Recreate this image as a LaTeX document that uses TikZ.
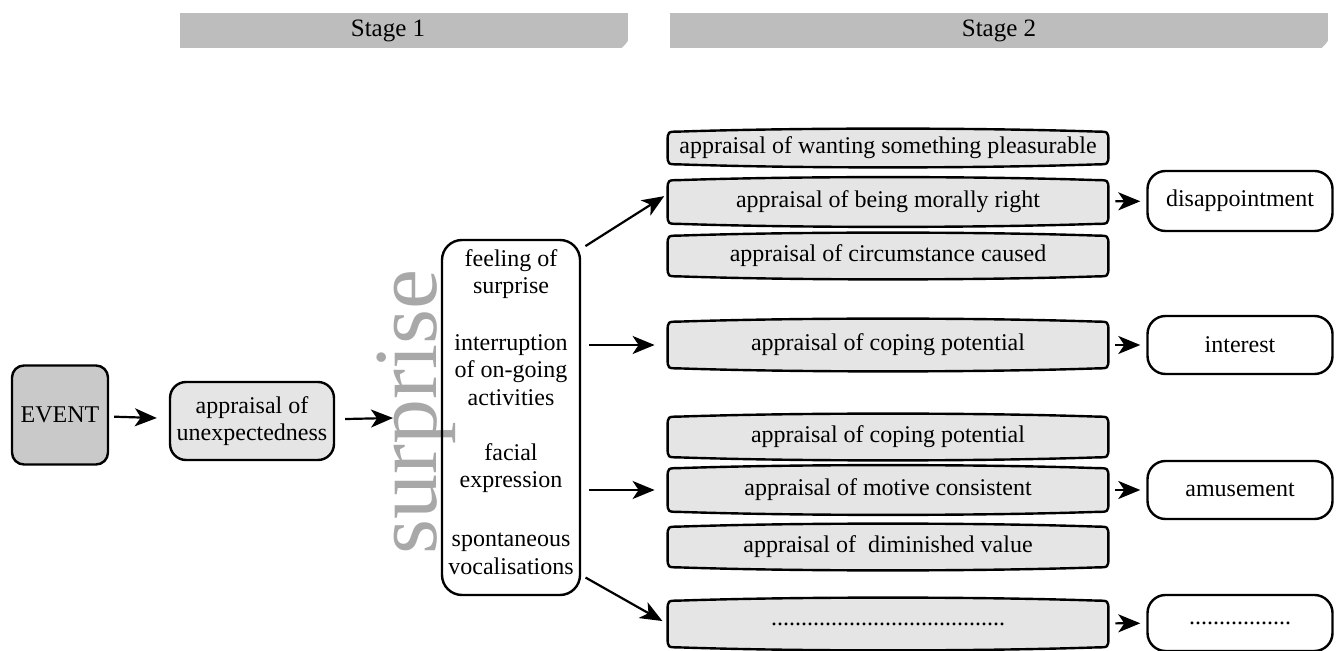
\documentclass[tikz,border=0pt]{standalone}
\usepackage{fontspec}
\setmainfont{Liberation Serif}
\usetikzlibrary{arrows.meta,positioning,calc}
\definecolor{BarGray}{RGB}{189,189,189}
\definecolor{EventGray}{RGB}{201,201,201}
\definecolor{PaleGray}{RGB}{229,229,229}
\definecolor{WordGray}{RGB}{168,168,168}
\newcommand\lblfont{\fontsize{12}{13.8}\selectfont}
\pgfdeclarelayer{background}
\pgfsetlayers{background,main}
\tikzset{
  stagebar/.style={rectangle,fill=BarGray,minimum height=17.5pt,inner sep=0pt},
  stagetext/.style={font=\fontsize{12.5}{14}\selectfont,inner sep=0pt},
  eventbox/.style={rectangle,rounded corners=6pt,draw,line width=1.2pt,fill=EventGray,
                   minimum width=48pt,minimum height=49.5pt,font=\lblfont},
  unexpbox/.style={rectangle,rounded corners=8pt,draw,line width=1.2pt,fill=PaleGray,
                   minimum width=80.5pt,minimum height=39pt,align=center,font=\lblfont},
  listbox/.style={rectangle,rounded corners=10pt,draw,line width=1.2pt,
                  minimum width=69pt,minimum height=177.5pt},
  ftext/.style={align=center,inner sep=0pt,font=\lblfont},
  abox/.style={rectangle,minimum width=220pt,inner sep=0pt,font=\lblfont},
  aline/.style={draw=black,line width=1.2pt,fill=PaleGray},
  outbox/.style={rectangle,rounded corners=9pt,draw,line width=1.2pt,
                 minimum width=92.5pt,font=\lblfont},
  arr/.style={-{Stealth[length=11pt,width=9pt,inset=3pt]},line width=1.1pt},
}
\begin{document}
\begin{tikzpicture}[x=0.5pt,y=-0.5pt]
  \useasboundingbox (0,0) rectangle (1337,651);
  % stage banners
  \node[stagebar,minimum width=224pt] (bar1) at (404,30.5) {};
  \node[stagebar,minimum width=329pt] (bar2) at (999,30.5) {};
  \foreach \b in {bar1,bar2}
    \fill[white] ([xshift=-3.5pt]\b.south east) -- (\b.south east)
      -- ([yshift=4pt]\b.south east) -- ([xshift=-1.5pt,yshift=2pt]\b.south east) -- cycle;
  \node[stagetext] (stage1) at (388,31) {Stage 1};
  \node[stagetext] (stage2) at (999,31) {Stage 2};
  %
  \node[eventbox] (event) at (60,415) {EVENT};
  \node[unexpbox] (unexp) at (252,421) {appraisal of\\unexpectedness};
  \node[rotate=90,anchor=base,inner sep=0pt,text=WordGray,
        font=\fontsize{45}{45}\selectfont] (word) at (436,412) {surprise};
  \coordinate (sin) at (393,418);
  \node[listbox] (feat) at (511,417.5) {};
  \node[ftext] (f1) at (511,274) {feeling of\\surprise};
  \node[ftext] (f2) at (511,370) {interruption\\of on-going\\activities};
  \node[ftext] (f3) at (511,468) {facial\\expression};
  \node[ftext] (f4) at (511,554) {spontaneous\\vocalisations};
  %
  \node[abox,minimum height=16pt] (a1) at (888,148) {appraisal of wanting something pleasurable};
  \node[abox,minimum height=21.5pt] (a2) at (888,202) {appraisal of being morally right};
  \node[abox,minimum height=20pt] (a3) at (888,256) {appraisal of circumstance caused};
  \node[abox,minimum height=23pt] (a4) at (888,345) {appraisal of coping potential};
  \node[abox,minimum height=20pt] (a5) at (888,437) {appraisal of coping potential};
  \node[abox,minimum height=21.5pt] (a6) at (888,490) {appraisal of motive consistent};
  \node[abox,minimum height=20pt] (a7) at (888,547) {appraisal of~ diminished value};
  \node[abox,minimum height=23pt] (a8) at (888,624) {.......................................};
  \begin{pgfonlayer}{background}
    \foreach \n in {a1,a2,a3,a4,a5,a6,a7,a8}
      \path[aline] ([yshift=-5pt]\n.north west)
        .. controls (\n.north west) .. ([xshift=6pt]\n.north west)
        .. controls ($(\n.north west)!.3!(\n.north east)+(0,-4)$) and ($(\n.north west)!.7!(\n.north east)+(0,-4)$) .. ([xshift=-6pt]\n.north east)
        .. controls (\n.north east) .. ([yshift=-5pt]\n.north east)
        -- ([yshift=5pt]\n.south east)
        .. controls (\n.south east) .. ([xshift=-6pt]\n.south east)
        .. controls ($(\n.south west)!.7!(\n.south east)+(0,4)$) and ($(\n.south west)!.3!(\n.south east)+(0,4)$) .. ([xshift=6pt]\n.south west)
        .. controls (\n.south west) .. ([yshift=5pt]\n.south west) -- cycle;
  \end{pgfonlayer}
  %
  \node[outbox,minimum height=30pt] (o1) at (1240,201) {disappointment};
  \node[outbox,minimum height=29pt] (o2) at (1240,345) {interest};
  \node[outbox,minimum height=29pt] (o3) at (1240,490) {amusement};
  \node[outbox,minimum height=28pt] (o4) at (1240,623) {.................};
  %
  \draw[arr,shorten <=2.5pt,shorten >=6pt] (event) -- (unexp);
  \draw[arr,shorten <=5pt] (unexp) -- (sin);
  \draw[arr,shorten <=2.5pt,shorten >=2pt] (feat.east |- f1.north) -- ([yshift=4pt]a2.west);
  \draw[arr,shorten <=4pt,shorten >=6.5pt] (feat.east |- a4) -- (a4.west);
  \draw[arr,shorten <=4pt,shorten >=6.5pt] (feat.east |- a6) -- (a6.west);
  \draw[arr,shorten <=2.5pt,shorten >=3pt] (feat.east |- f4.south) -- (a8.west);
  \draw[arr,shorten <=3.5pt,shorten >=3pt] (a2) -- (o1);
  \draw[arr,shorten <=3.5pt,shorten >=3pt] (a4) -- (o2);
  \draw[arr,shorten <=3.5pt,shorten >=3pt] (a6) -- (o3);
  \draw[arr,shorten <=3.5pt,shorten >=3pt] (a8) -- (o4);
\end{tikzpicture}
\end{document}
